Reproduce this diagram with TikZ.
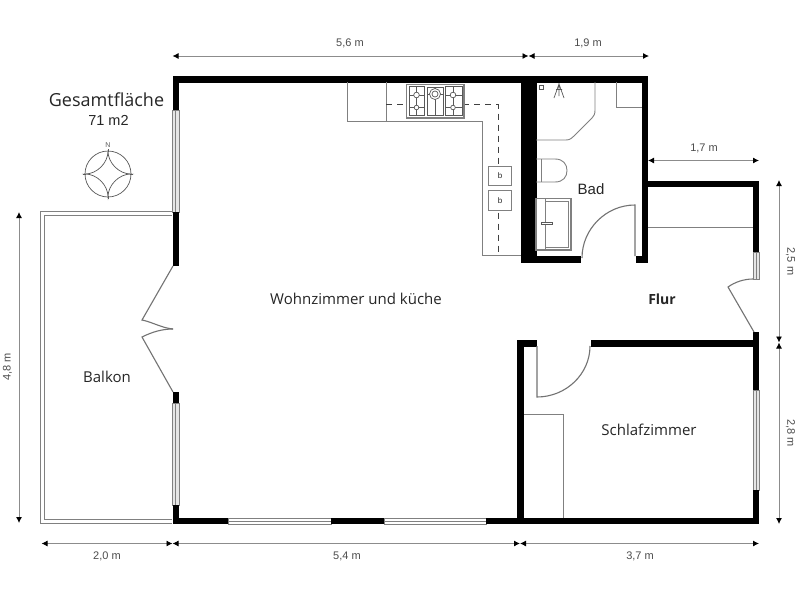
\documentclass[tikz,border=0pt]{standalone}
\usepackage{fontspec}
\setmainfont{Open Sans}
\newfontfamily\arialf{Liberation Sans}
\usetikzlibrary{arrows.meta}
\definecolor{wallc}{gray}{0}
\definecolor{thinc}{gray}{0.5}
\definecolor{dimc}{gray}{0.55}
\definecolor{txtc}{gray}{0.15}
\definecolor{dimt}{gray}{0.3}
\tikzset{
  wall/.style={fill=wallc,draw=none},
  thin line/.style={draw=thinc,line width=0.9pt},
  door/.style={draw=thinc!90!black,line width=1.1pt},
  glass/.style={draw=thinc,line width=0.8pt,fill=black!10},
  glassw/.style={draw=thinc,line width=0.8pt,fill=white},
  dim/.style={draw=dimc,line width=0.9pt,{Latex[length=6pt,width=6pt,black]}-{Latex[length=6pt,width=6pt,black]}},
  dimlabel/.style={font=\arialf\fontsize{11}{13}\selectfont,text=dimt,inner sep=0pt},
  roomlabel/.style={font=\fontsize{15}{17}\selectfont,text=txtc,inner sep=0pt},
  bath/.style={draw=thinc,line width=1.1pt},
  fine/.style={draw=thinc!70!black,line width=0.7pt}
}
\begin{document}
\begin{tikzpicture}[x=1pt,y=-1pt]
\useasboundingbox[fill=white] (0,0) rectangle (800,600);

% balcony
\draw[thin line] (172,211) -- (40,211) -- (40,523) -- (172,523);
\draw[thin line] (172,215) -- (44.5,215) -- (44.5,519) -- (172,519);

% windows
\draw[glass] (172.5,110) rectangle (179,212);
\draw[thinc,line width=.6pt] (175.7,110) -- (175.7,212);
\draw[glass] (172.5,403) rectangle (179,505);
\draw[thinc,line width=.6pt] (175.7,403) -- (175.7,505);
\draw[glassw] (228,518.5) rectangle (331,524);
\draw[thinc,line width=.5pt] (228,521.5) -- (331,521.5);
\draw[glassw] (384,518.5) rectangle (486,524);
\draw[thinc,line width=.5pt] (384,521.5) -- (486,521.5);
\draw[glass] (753,252) rectangle (759,279);
\draw[thinc,line width=.6pt] (756,252) -- (756,279);
\draw[glass] (753,390) rectangle (759,490);
\draw[thinc,line width=.6pt] (756,390) -- (756,490);

% walls
\fill[wall] (172.5,76) rectangle (648,82.5);
\fill[wall] (172.5,76) rectangle (179,110);
\fill[wall] (172.5,212) rectangle (179,266);
\fill[wall] (172.5,392) rectangle (179,403);
\fill[wall] (172.5,505) rectangle (179,524);
\fill[wall] (172.5,518) rectangle (228,524);
\fill[wall] (331,518) rectangle (384,524);
\fill[wall] (486,518) rectangle (759,524);
\fill[wall] (520.5,76) rectangle (536.5,262.5);
\fill[wall] (520.5,256) rectangle (581,262.5);
\fill[wall] (636,256) rectangle (648,262.5);
\fill[wall] (641.5,76) rectangle (648,262.5);
\fill[wall] (641.5,180.5) rectangle (759,187);
\fill[wall] (753,180.5) rectangle (759,252);
\fill[wall] (753,332) rectangle (759,390);
\fill[wall] (753,490) rectangle (759,524);
\fill[wall] (517,340) rectangle (537,346.5);
\fill[wall] (590.5,340) rectangle (759,346.5);
\fill[wall] (517,340) rectangle (524,524);

% built-ins
\draw[thin line] (648,227) -- (753,227);
\draw[thin line] (524,414) -- (563,414) -- (563,518);

% doors
\draw[door] (173,266) -- (142,320) .. controls (152,322) and (162,328) .. (173,329);
\draw[door] (173,329) .. controls (162,329) and (152,332) .. (142,337) -- (173,392);
\draw[door] (753,279) .. controls (744,279) and (735,282) .. (728,287) -- (754,332);
\draw[door] (537,346) -- (537,397) .. controls (566,397) and (590,374) .. (590,346);
\draw[door] (635,256) -- (635,205) .. controls (606,205) and (582,229) .. (582,258);

% kitchen
\draw[thin line] (347.5,82) -- (347.5,121) -- (482.5,121) -- (482.5,255.5) -- (520.5,255.5);
\draw[thin line] (386,82) -- (386,121);
\draw[draw=black!75,line width=0.9pt,dash pattern=on 6pt off 5pt] (386,104.7) -- (498,104.7) -- (498,255);
% stove
\draw[draw=thinc,line width=1.4pt,fill=white] (406.5,84.5) rectangle (464,118);
\draw[fine] (409,86.5) rectangle (424,115.5);
\draw[fine] (427,87) rectangle (443,115);
\draw[fine] (445,86.5) rectangle (462,115.5);
\draw[fine] (409,95) -- (424,95) (409,107.5) -- (424,107.5) (416.5,87) -- (416.5,115);
\draw[fine] (427,94) -- (443,94) (435,87) -- (435,115);
\draw[fine] (445,95) -- (462,95) (445,107.5) -- (462,107.5) (453,87) -- (453,115);
\draw[fine,fill=white] (416.5,95) circle (2.8);
\draw[fine,fill=white] (416.5,107.5) circle (2.3);
\draw[fine,fill=white] (435,94) circle (5.5);
\draw[fine,fill=white] (435,94) circle (3);
\draw[fine,fill=white] (453,95) circle (2.8);
\draw[fine,fill=white] (453,107.5) circle (2.3);
% sinks
\draw[thin line,fill=white] (488,166) rectangle (511.7,185.7);
\draw[thin line,fill=white] (488,190.7) rectangle (511.7,210.3);
\node[inner sep=0pt,text=txtc,font=\arialf\fontsize{8}{9}\selectfont] (sinka) at (500,175.5) {b};
\node[inner sep=0pt,text=txtc,font=\arialf\fontsize{8}{9}\selectfont] (sinkb) at (500,200.3) {b};

% bathroom
\draw[thin line] (536,140) -- (566,140) .. controls (570,140) and (572,138) .. (574,136) -- (592,118) .. controls (594,116) and (595,114) .. (595,110) -- (595,82);
\draw[fine] (539.8,85.5) rectangle (543.5,89.5);
\draw[fine] (559,83) -- (559,96) (559,84) -- (554,98) (559,84) -- (564,98) (556,89.5) -- (562,89.5);
\draw[thin line] (616.7,82) -- (616.7,107.7) -- (641.5,107.7);
\draw[thin line] (536,159) -- (555,159) .. controls (563,159) and (567,164) .. (567,170.5) .. controls (567,177) and (563,182) .. (555,182) -- (536,182);
\draw[thin line] (541,159) -- (541,182);
\draw[bath] (536,198.5) rectangle (571,250);
\draw[thin line] (545,198.5) -- (545,250);
\draw[thin line] (545,201) -- (568.5,201) -- (568.5,247) -- (545,247);
\draw[fine,fill=white] (541.5,222) rectangle (552,224.5);

% compass
\draw[fine] (108,174) circle (23);
\draw[fine] (108,149) -- (108,152) (108,196) -- (108,199) (83,174) -- (86,174) (130,174) -- (133,174);
\draw[fine] (108,151) .. controls (108,163) and (97,174) .. (85,174)
  .. controls (97,174) and (108,185) .. (108,197)
  .. controls (108,185) and (119,174) .. (131,174)
  .. controls (119,174) and (108,163) .. (108,151);
\node[inner sep=0pt,text=thinc!70!black,font=\arialf\fontsize{7}{8}\selectfont] (north) at (108,145) {N};

% dimensions
\coordinate (t0) at (172.5,56); \coordinate (t1) at (528.5,56); \coordinate (t2) at (649,56);
\coordinate (f0) at (648,160.5); \coordinate (f1) at (759,160.5);
\coordinate (r0) at (779,180); \coordinate (r1) at (779,342.5); \coordinate (r2) at (779,524);
\coordinate (b0) at (41.5,543.5); \coordinate (b1) at (172.5,543.5); \coordinate (b2) at (520,543.5); \coordinate (b3) at (759,543.5);
\coordinate (l0) at (19,212); \coordinate (l1) at (19,523);
\draw[dim] (t0) -- (t1);
\draw[dim] (t1) -- (t2);
\draw[dim] (f0) -- (f1);
\draw[dim] (r0) -- (r1);
\draw[dim] (r1) -- (r2);
\draw[dim] (b0) -- (b1);
\draw[dim] (b1) -- (b2);
\draw[dim] (b2) -- (b3);
\draw[dim] (l0) -- (l1);
\node[dimlabel] (d56) at (350,43.5) {5,6 m};
\node[dimlabel] (d19) at (588,43.5) {1,9 m};
\node[dimlabel] (d17) at (704,148) {1,7 m};
\node[dimlabel,rotate=-90] (d25) at (790.5,261.5) {2,5 m};
\node[dimlabel,rotate=-90] (d28) at (790.5,433) {2,8 m};
\node[dimlabel,rotate=90] (d48) at (7.5,367) {4,8 m};
\node[dimlabel] (d20) at (107,556) {2,0 m};
\node[dimlabel] (d54) at (347,556) {5,4 m};
\node[dimlabel] (d37) at (640,556) {3,7 m};

% labels
\node[roomlabel,font=\fontsize{18}{20}\selectfont] (ges) at (106.5,100) {Gesamtfläche};
\node[inner sep=0pt,text=txtc,font=\arialf\fontsize{14.5}{16}\selectfont] (area) at (108.5,120) {71 m2};
\node[roomlabel] (wohn) at (356,299) {Wohnzimmer und küche};
\node[roomlabel] (balk) at (107,377) {Balkon};
\node[roomlabel] (schl) at (649,430) {Schlafzimmer};
\node[roomlabel,font=\fontsize{14}{16}\bfseries\selectfont] (flur) at (662,299) {Flur};
\node[inner sep=0pt,text=txtc,font=\arialf\fontsize{15}{17}\selectfont] (bad) at (591,189) {Bad};
\end{tikzpicture}
\end{document}
